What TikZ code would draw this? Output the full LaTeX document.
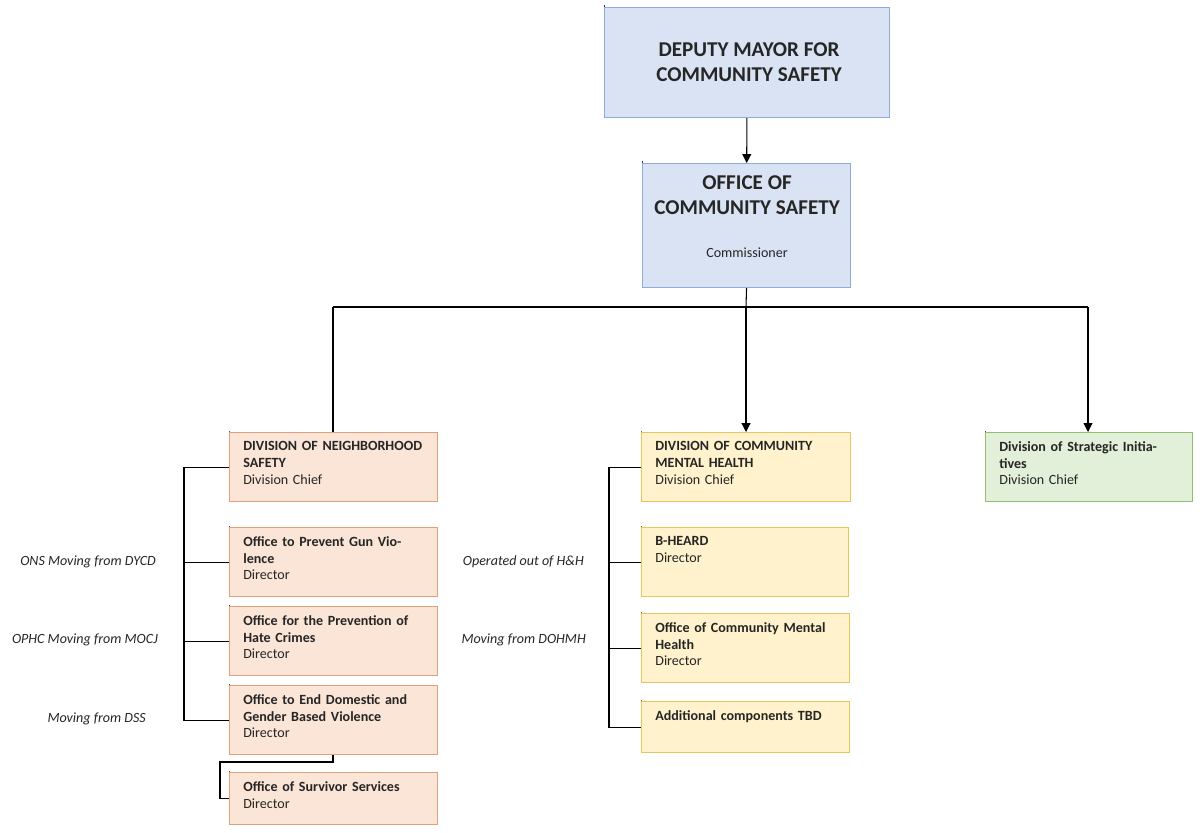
\documentclass[tikz,border=0pt]{standalone}
\usepackage{fontspec}
\setmainfont{Carlito}
\usetikzlibrary{arrows.meta}
\definecolor{bluefill}{HTML}{DAE3F3}
\definecolor{blueline}{HTML}{8FAADC}
\definecolor{bluebar}{HTML}{203864}
\definecolor{orgfill}{HTML}{FBE5D6}
\definecolor{orgline}{HTML}{E0A07A}
\definecolor{orgbar}{HTML}{843C0C}
\definecolor{yelfill}{HTML}{FFF2CC}
\definecolor{yelline}{HTML}{E6C65A}
\definecolor{yelbar}{HTML}{7F6000}
\definecolor{grnfill}{HTML}{E2F0D9}
\definecolor{grnline}{HTML}{8FBF70}
\definecolor{grnbar}{HTML}{385723}
\definecolor{ink}{HTML}{262626}
\tikzset{
  box/.style={draw=#1line, fill=#1fill, line width=0.6pt, anchor=north west, inner sep=0pt},
  txt/.style={anchor=north west, align=left, text width=3.6cm, font=\fontsize{8}{9.6}\selectfont, text=ink, inner sep=0pt},
  note/.style={anchor=east, font=\fontsize{8}{9.6}\selectfont\itshape, text=ink},
  link/.style={line width=0.6pt},
  arr/.style={link, -{Triangle[length=5pt,width=5pt]}}
}
% \orgbox{name}{x}{y}{w}{h}{colour}{bar}{text}
\newcommand{\orgbox}[8]{%
  \node[box=#6, minimum width=#4*0.02cm, minimum height=#5*0.02cm] (#1) at (#2,#3) {};
  \fill[#7] (#1.north west) rectangle ++(0.09,-#5*0.02);
  \node[txt] (#1-t) at (#2+14,#3+9) {#8};
}
\begin{document}
\begin{tikzpicture}[x=0.02cm, y=-0.02cm]
      \useasboundingbox (0,0) rectangle (1200,832);
      % top boxes
      \node[box=blue, minimum width=285*0.02cm, minimum height=110*0.02cm] (dm) at (604,7) {};
      \fill[bluebar] (dm.north west) rectangle ++(0.11,-2.2);
      \node[font=\fontsize{12}{14.5}\selectfont\bfseries, text=ink, align=center] (dm-t) at (749,62) {DEPUTY MAYOR FOR\\COMMUNITY SAFETY};
      \node[box=blue, minimum width=208*0.02cm, minimum height=124*0.02cm] (ocs) at (642,163) {};
      \fill[bluebar] (ocs.north west) rectangle ++(0.09,-2.48);
      \node[font=\fontsize{12}{14.5}\selectfont\bfseries, text=ink, align=center] (ocs-t) at (747,195) {OFFICE OF\\COMMUNITY SAFETY};
      \node[font=\fontsize{8}{9.6}\selectfont, text=ink] (ocs-r) at (747,253) {Commissioner};

      % divisions
      \orgbox{dns}{229}{432}{208}{69}{org}{orgbar}{\textbf{DIVISION OF NEIGHBORHOOD SAFETY}\\Division Chief}
      \orgbox{gun}{229}{527}{208}{69}{org}{orgbar}{\textbf{Office to Prevent Gun Violence}\\Director}
      \orgbox{hate}{229}{606}{208}{69}{org}{orgbar}{\textbf{Office for the Prevention of Hate Crimes}\\Director}
      \orgbox{dv}{229}{685}{208}{69}{org}{orgbar}{\textbf{Office to End Domestic and Gender Based Violence}\\Director}
      \orgbox{ss}{229}{772}{208}{52}{org}{orgbar}{\textbf{Office of Survivor Services}\\Director}

      \orgbox{dcmh}{641}{432}{209}{69}{yel}{yelbar}{\textbf{DIVISION OF COMMUNITY MENTAL HEALTH}\\Division Chief}
      \orgbox{bh}{641}{527}{207}{69}{yel}{yelbar}{\textbf{B-HEARD}\\Director}
      \orgbox{ocmh}{641}{613}{208}{69}{yel}{yelbar}{\textbf{Office of Community Mental Health}\\Director}
      \orgbox{add}{641}{701}{208}{51}{yel}{yelbar}{\textbf{Additional components TBD}}

      \orgbox{dsi}{985}{432}{207}{69}{grn}{grnbar}{\textbf{Division of Strategic Initiatives}\\Division Chief}

      % connectors
      \draw[arr] (dm) -- (ocs);
      \coordinate (bus) at (746,307);
      \draw[link] (ocs.south) -- (bus);
      \draw[link] (333,307) -- (1088,307);
      \draw[link] (dns.north -| 333,0) -- (333,307);
      \draw[arr] (bus) -- (dcmh.north -| bus);
      \draw[arr] (1088,307) -- (dsi.north -| 1088,0);

      \coordinate (lbar) at (184,0);
      \draw[link] (dns.west) -| (lbar |- dv.west) -- (dv.west);
      \draw[link] (gun.west) -- (gun.west -| lbar);
      \draw[link] (hate.west) -- (hate.west -| lbar);
      \draw[link] (dv.south -| 333,0) |- (220,762) |- (ss.west);

      \coordinate (mbar) at (609,0);
      \draw[link] (dcmh.west) -| (mbar |- add.west) -- (add.west);
      \draw[link] (bh.west) -- (bh.west -| mbar);
      \draw[link] (ocmh.west) -- (ocmh.west -| mbar);

      % notes
      \node[note] (n1) at (162,562) {ONS Moving from DYCD};
      \node[note] (n2) at (164,640) {OPHC Moving from MOCJ};
      \node[note] (n3) at (152,719) {Moving from DSS};
      \node[note] (n4) at (590,562) {Operated out of H\&H};
      \node[note] (n5) at (592,640) {Moving from DOHMH};
\end{tikzpicture}
\end{document}
